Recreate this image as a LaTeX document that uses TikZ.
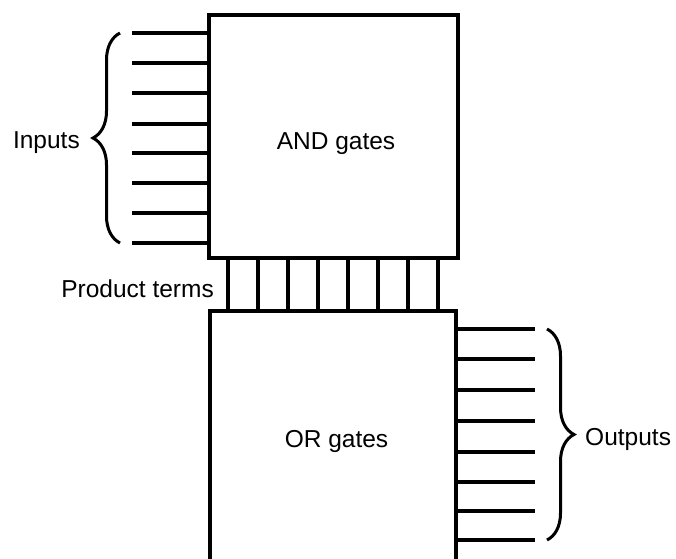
\documentclass[tikz,border=0pt]{standalone}
\usepackage{fontspec}
\setmainfont{Liberation Sans}
\usetikzlibrary{decorations.pathreplacing}
\begin{document}
\begin{tikzpicture}[x=1pt,y=-1pt,
  gatebox/.style={draw, line width=4.5pt, inner sep=0pt, rectangle},
  wire/.style={line width=3.5pt},
  pterm/.style={line width=4pt},
  bracestyle/.style={line width=3pt, decorate, decoration={brace, amplitude=27pt}},
  lbl/.style={font=\fontsize{24.5}{29}\selectfont, inner sep=0pt}]
\useasboundingbox (0,0) rectangle (676,558);
\node[gatebox, minimum width=249pt, minimum height=243pt] (andbox) at (333.5,136.5) {};
\node[gatebox, minimum width=246pt, minimum height=309pt] (orbox) at (333,465.5) {};
\node[lbl, anchor=base] (andtxt) at (336,149) {AND gates};
\node[lbl, anchor=base] (ortxt) at (336.5,447) {OR gates};
\node[lbl, anchor=base east] (ptxt) at (214,297) {Product terms};
\node[lbl, anchor=base east] (intxt) at (80,148) {Inputs};
\node[lbl, anchor=base west] (outtxt) at (585,445) {Outputs};
\foreach \y [count=\i] in {33,63,93,124,153,183,213,243} {
  \coordinate (in\i) at (132,\y);
  \draw[wire] (in\i) -- (in\i -| andbox.west);
}
\foreach \y [count=\i] in {329,359,390,421,452,482,511,540} {
  \coordinate (out\i) at (535,\y);
  \draw[wire] (out\i -| orbox.east) -- (out\i);
}
\foreach \x [count=\i] in {228,258,288,318,348,378,408,438} {
  \coordinate (pt\i) at (\x,284);
  \draw[pterm] (pt\i |- andbox.south) -- (pt\i |- orbox.north);
}
\coordinate (ib1) at (120,243);
\coordinate (ib2) at (120,33);
\draw[bracestyle] (ib1) -- (ib2);
\coordinate (ob1) at (547,329);
\coordinate (ob2) at (547,540);
\draw[bracestyle] (ob1) -- (ob2);
\end{tikzpicture}
\end{document}
